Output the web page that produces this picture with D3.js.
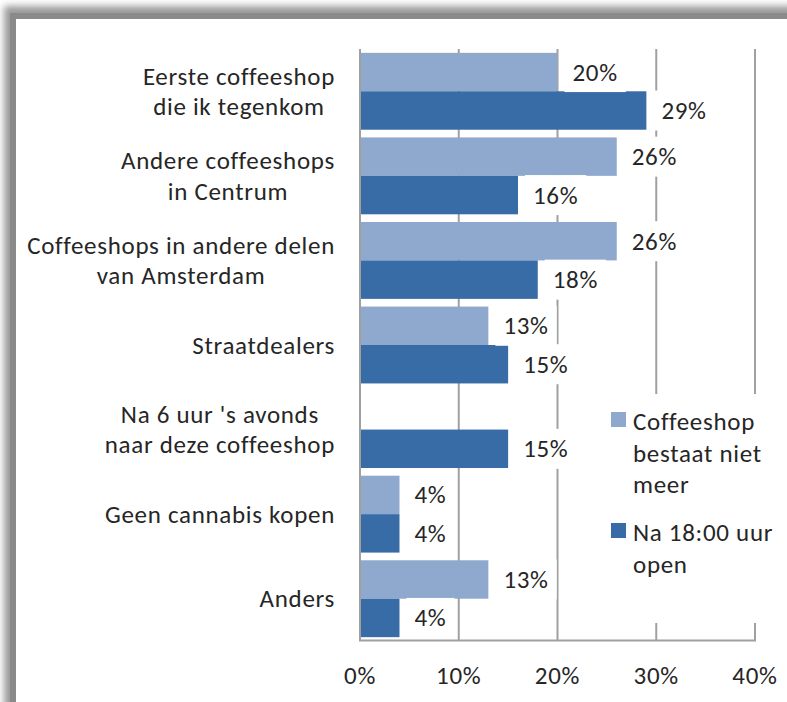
<!DOCTYPE html>
<html>
<head>
<meta charset="utf-8">
<script src="https://cdn.jsdelivr.net/npm/d3@7"></script>
<style>
  html, body { margin: 0; padding: 0; background: #ffffff; }
  svg text { font-family: Carlito, Lato, "Open Sans", sans-serif; fill: #262626; letter-spacing: 0.7px; }
</style>
</head>
<body>
<svg id="chart" width="787" height="702"></svg>
<script>
// Categories (multi-line labels), series names and values in percent
const categories = [
  ["Eerste coffeeshop", "die ik tegenkom"],
  ["Andere coffeeshops", "in Centrum"],
  ["Coffeeshops in andere delen", "van Amsterdam"],
  ["Straatdealers"],
  ["Na 6 uur 's avonds", "naar deze coffeeshop"],
  ["Geen cannabis kopen"],
  ["Anders"]
];
const seriesNames = [
  ["Coffeeshop", "bestaat niet", "meer"],
  ["Na 18:00 uur", "open"]
];
const valuesNietMeer = [20, 26, 26, 13, null, 4, 13];
const valuesNa18 = [29, 16, 18, 15, 15, 4, 4];
const xTicks = [0, 10, 20, 30, 40];
const colors = ["#8FA9CE", "#386CA6"];

const svg = d3.select("#chart");
const FONT = 25;

// Outer frame with soft shadow
const defs = svg.append("defs");
defs.append("filter").attr("id", "soft")
  .attr("x", "-10%").attr("y", "-10%").attr("width", "120%").attr("height", "120%")
  .append("feGaussianBlur").attr("stdDeviation", 3.5);
svg.append("rect").attr("x", 4).attr("y", 6).attr("width", 900).attr("height", 800)
  .attr("fill", "#9a9a9a").attr("filter", "url(#soft)");
svg.append("rect").attr("x", 13).attr("y", 16).attr("width", 900).attr("height", 800)
  .attr("fill", "#ffffff").attr("stroke", "#8a8a8a").attr("stroke-width", 6);

// Scales
const x = d3.scaleLinear().domain([0, 40]).range([360, 755]);
const keys = categories.map((c, i) => i);
const y = d3.scaleBand().domain(keys).range([49, 641]).paddingInner(0).paddingOuter(0);
const ySub = d3.scaleBand().domain([0, 1]).range([0, y.bandwidth()]).paddingInner(0).paddingOuter(0.1);

// Vertical gridlines
svg.append("g").selectAll("line").data(xTicks.slice(1)).join("line")
  .attr("x1", d => x(d)).attr("x2", d => x(d))
  .attr("y1", 49).attr("y2", 641)
  .attr("stroke", "#a0a0a0").attr("stroke-width", 2);

// Bars
const series = [valuesNietMeer, valuesNa18];
const barData = [];
series.forEach((vals, s) => vals.forEach((v, i) => {
  if (v !== null) barData.push({ s, i, v });
}));
svg.append("g").selectAll("rect").data(barData).join("rect")
  .attr("x", x(0))
  .attr("y", d => y(d.i) + ySub(d.s))
  .attr("width", d => x(d.v) - x(0))
  .attr("height", ySub.bandwidth())
  .attr("fill", d => colors[d.s]);

// Value labels with white backing
const labG = svg.append("g");
barData.forEach(d => {
  const cy = y(d.i) + ySub(d.s) + ySub.bandwidth() / 2;
  const g = labG.append("g");
  const bg = g.append("rect").attr("fill", "#ffffff");
  const t = g.append("text")
    .attr("x", x(d.v) + 15).attr("y", cy + FONT * 0.34)
    .attr("font-size", FONT)
    .text(d.v + "%");
  const w = t.node().getComputedTextLength();
  bg.attr("x", x(d.v) + 7).attr("y", cy - 20).attr("width", w + 16).attr("height", 40);
});

// Axes lines
svg.append("line").attr("x1", x(0)).attr("x2", x(0)).attr("y1", 49).attr("y2", 641)
  .attr("stroke", "#a0a0a0").attr("stroke-width", 2);
svg.append("line").attr("x1", x(0) - 1).attr("x2", x(40) + 1).attr("y1", 640.5).attr("y2", 640.5)
  .attr("stroke", "#a0a0a0").attr("stroke-width", 2);

// X tick labels
svg.append("g").selectAll("text").data(xTicks).join("text")
  .attr("x", d => x(d)).attr("y", 684)
  .attr("text-anchor", "middle").attr("font-size", FONT)
  .text(d => d + "%");

// Category labels: block right-aligned, lines centred within block
const LH = 30.5;
categories.forEach((lines, i) => {
  const cy = y(i) + y.bandwidth() / 2;
  const g = svg.append("g");
  const texts = lines.map((s, k) => g.append("text")
    .attr("font-size", FONT)
    .attr("text-anchor", "middle")
    .attr("y", cy + (k - (lines.length - 1) / 2) * LH + FONT * 0.34)
    .text(s));
  const maxW = d3.max(texts, t => t.node().getComputedTextLength());
  texts.forEach(t => t.attr("x", 335 - maxW / 2));
});

// Legend with white box
svg.append("rect").attr("x", 598).attr("y", 394).attr("width", 180).attr("height", 229)
  .attr("fill", "#ffffff");
const legendTop = [430, 541];
seriesNames.forEach((lines, s) => {
  const base = legendTop[s];
  svg.append("rect").attr("x", 611).attr("y", base - 18).attr("width", 15).attr("height", 15)
    .attr("fill", colors[s]);
  lines.forEach((line, k) => {
    svg.append("text").attr("x", 633).attr("y", base + k * 31.5)
      .attr("font-size", FONT).text(line);
  });
});
</script>
</body>
</html>
